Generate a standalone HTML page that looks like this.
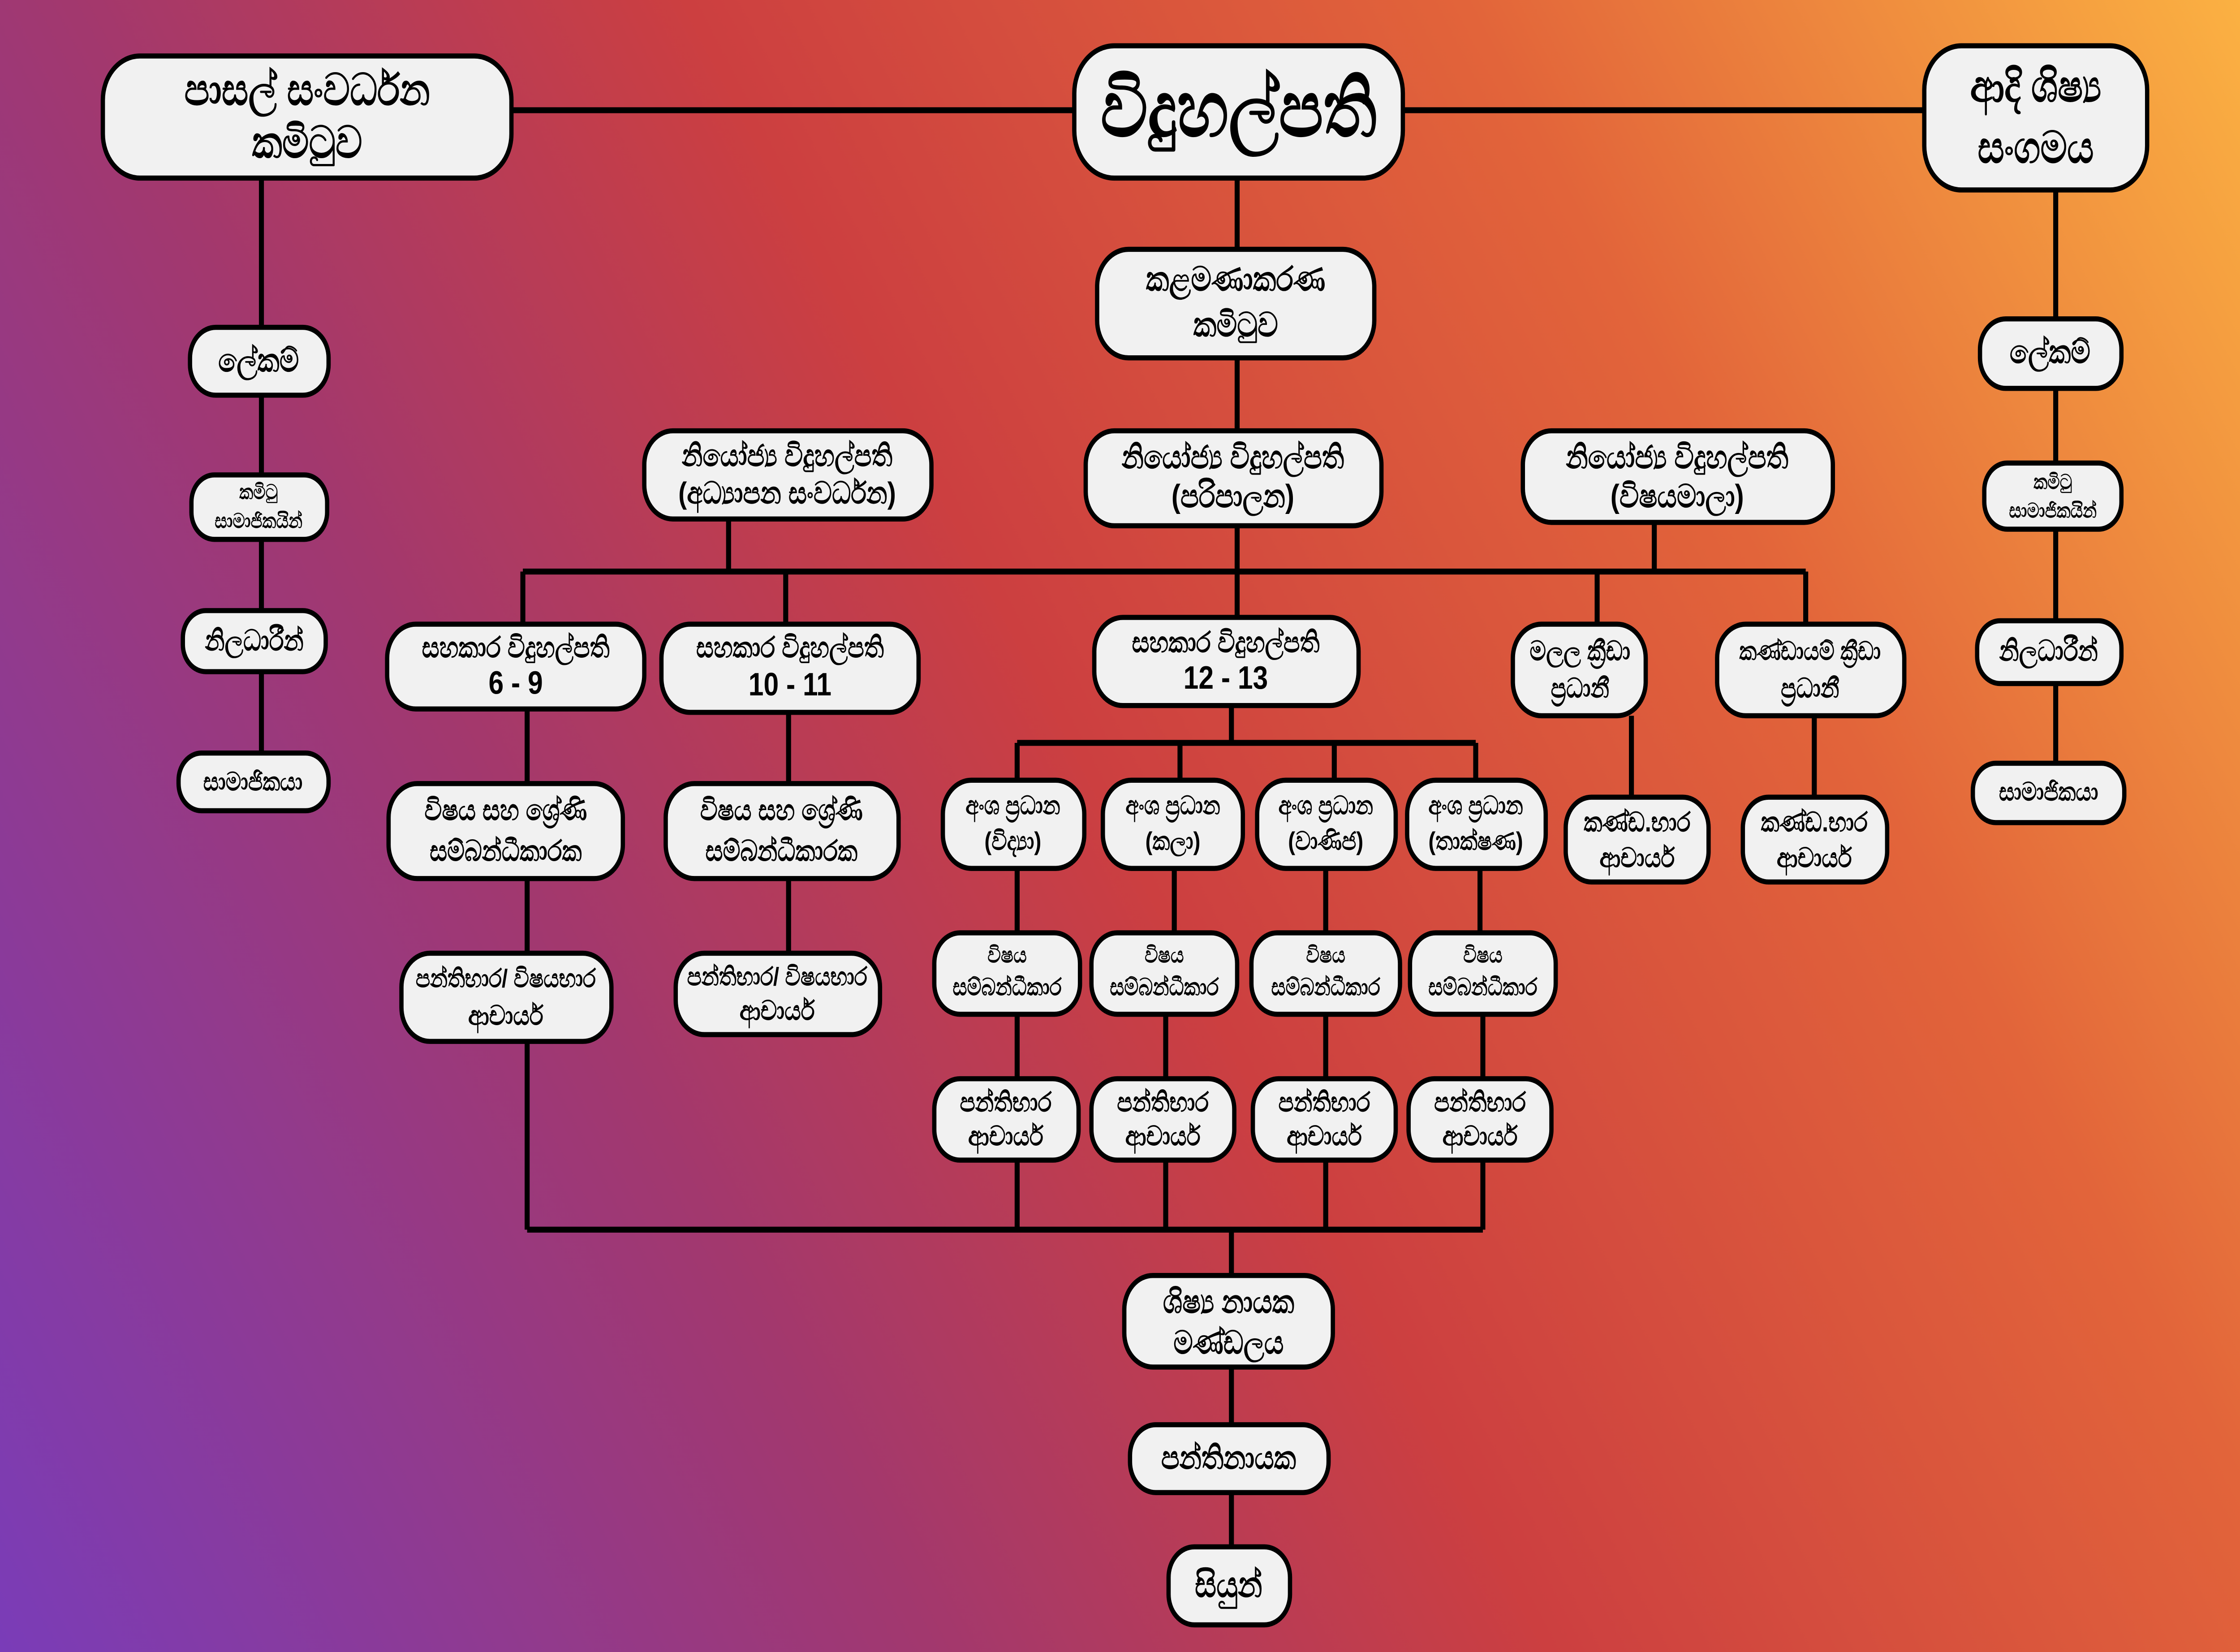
<!DOCTYPE html>
<html><head><meta charset="utf-8"><style>
html,body{margin:0;padding:0;width:100%;height:100%;overflow:hidden}
svg{display:block;position:absolute;left:0;top:0;width:100vw;height:100vh}
text{font-family:"Liberation Sans","Noto Sans CJK SC",sans-serif;font-weight:bold;fill:#000;text-anchor:middle;dominant-baseline:middle}
.b{fill:#f1f1f1;stroke:#000;stroke-width:3}
.l{stroke:#000;stroke-width:3.5;fill:none}
</style></head><body>
<svg viewBox="0 0 1568 974" preserveAspectRatio="none">
<defs>
<linearGradient id="g" gradientUnits="userSpaceOnUse" x1="0" y1="974" x2="1568" y2="0">
<stop offset="0" stop-color="#7a3cb8"/>
<stop offset="0.3" stop-color="#a2386e"/>
<stop offset="0.5" stop-color="#cc3f40"/>
<stop offset="0.75" stop-color="#e2643a"/>
<stop offset="1" stop-color="#fbb142"/>
</linearGradient>
</defs>
<rect width="1568" height="974" fill="url(#g)"/>
<g class="l">
<path d="M358 65H752M982 65H1347"/>
<path d="M183 105V444M1439 112V450"/>
<path d="M866 105V147M866 211V254"/>
<path d="M366 337H1264M510 306V337M866 310V364M1158 308V337M366 337V368M550 337V368M1118 337V368M1264 337V368"/>
<path d="M369 418V562M552 420V562M369 614V725M862 416V438M1142 422V470M1270 422V470"/>
<path d="M712 438H1033M712 438V460M826 438V460M934 438V460M1033 438V460"/>
<path d="M712 512V550M822 512V550M928 512V550M1036 512V550"/>
<path d="M712 598V636M816 598V636M928 598V636M1038 598V636"/>
<path d="M712 684V725M816 684V725M928 684V725M1038 684V725"/>
<path d="M369 725H1038M862 725V752M862 806V840M862 880V912"/>
</g>
<g>
<rect class="b" x="72" y="33" width="286" height="72" rx="26"/>
<text x="215" y="55" font-size="26">පාසල් සංවර්ධන</text><text x="215" y="86" font-size="26">කමිටුව</text>
<rect class="b" x="752" y="27" width="230" height="78" rx="28" stroke-width="4"/>
<text x="867" y="68" font-size="46">විදුහල්පති</text>
<rect class="b" x="1347" y="27" width="156" height="85" rx="26"/>
<text x="1425" y="53" font-size="26">ආදි ශිෂ්‍ය</text><text x="1425" y="89" font-size="26">සංගමය</text>
<rect class="b" x="768" y="147" width="194" height="64" rx="22"/>
<text x="865" y="166" font-size="20">කළමණාකරණ</text><text x="865" y="193" font-size="20">කමිටුව</text>

<rect class="b" x="133" y="193" width="97" height="40" rx="18"/><text x="181" y="214" font-size="19">ලේකම්</text>
<rect class="b" x="134" y="280" width="95" height="38" rx="16"/><text x="181" y="291" font-size="12">කමිටු</text><text x="181" y="308" font-size="12">සාමාජිකයින්</text>
<rect class="b" x="128" y="360" width="100" height="36" rx="16"/><text x="178" y="379" font-size="17">නිලධාරීන්</text>
<rect class="b" x="125" y="444" width="105" height="34" rx="16"/><text x="177" y="462" font-size="15">සාමාජිකයා</text>

<rect class="b" x="1386" y="188" width="99" height="41" rx="18"/><text x="1435" y="209" font-size="19">ලේකම්</text>
<rect class="b" x="1389" y="273" width="96" height="39" rx="16"/><text x="1437" y="285" font-size="12">කමිටු</text><text x="1437" y="302" font-size="12">සාමාජිකයින්</text>
<rect class="b" x="1384" y="366" width="101" height="37" rx="16"/><text x="1434" y="385" font-size="17">නිලධාරීන්</text>
<rect class="b" x="1381" y="450" width="106" height="35" rx="16"/><text x="1434" y="468" font-size="15">සාමාජිකයා</text>

<rect class="b" x="451" y="254" width="201" height="52" rx="20"/><text x="551" y="270" font-size="18">නියෝජ්‍ය විදුහල්පති</text><text x="551" y="292" font-size="18">(අධ්‍යාපන සංවර්ධන)</text>
<rect class="b" x="760" y="254" width="207" height="56" rx="20"/><text x="863" y="271" font-size="19">නියෝජ්‍ය විදුහල්පති</text><text x="863" y="294" font-size="19">(පරිපාලන)</text>
<rect class="b" x="1066" y="254" width="217" height="54" rx="20"/><text x="1174" y="271" font-size="19">නියෝජ්‍ය විදුහල්පති</text><text x="1174" y="294" font-size="19">(විෂයමාලා)</text>

<rect class="b" x="271" y="368" width="180" height="50" rx="20"/><text x="361" y="383" font-size="17">සහකාර විදුහල්පති</text><text x="361" y="404" font-size="19" font-weight="normal">6 - 9</text>
<rect class="b" x="463" y="368" width="180" height="52" rx="20"/><text x="553" y="383" font-size="17">සහකාර විදුහල්පති</text><text x="553" y="405" font-size="19" font-weight="normal">10 - 11</text>
<rect class="b" x="766" y="364" width="185" height="52" rx="20"/><text x="858" y="380" font-size="17">සහකාර විදුහල්පති</text><text x="858" y="401" font-size="19" font-weight="normal">12 - 13</text>
<rect class="b" x="1059" y="368" width="93" height="54" rx="20"/><text x="1106" y="385" font-size="16">මලල ක්‍රීඩා</text><text x="1106" y="407" font-size="16">ප්‍රධානී</text>
<rect class="b" x="1202" y="368" width="131" height="54" rx="20"/><text x="1267" y="385" font-size="15">කණ්ඩායම් ක්‍රීඩා</text><text x="1267" y="407" font-size="16">ප්‍රධානී</text>

<rect class="b" x="272" y="462" width="164" height="56" rx="20"/><text x="354" y="479" font-size="17">විෂය සහ ශ්‍රේණි</text><text x="354" y="503" font-size="17">සම්බන්ධීකාරක</text>
<rect class="b" x="466" y="462" width="163" height="56" rx="20"/><text x="547" y="479" font-size="17">විෂය සහ ශ්‍රේණි</text><text x="547" y="503" font-size="17">සම්බන්ධීකාරක</text>
<rect class="b" x="1096" y="470" width="100" height="50" rx="18"/><text x="1146" y="486" font-size="16">කණ්ඩ.භාර</text><text x="1146" y="507" font-size="16">ආචාර්ය</text>
<rect class="b" x="1220" y="470" width="101" height="50" rx="18"/><text x="1270" y="486" font-size="16">කණ්ඩ.භාර</text><text x="1270" y="507" font-size="16">ආචාර්ය</text>

<rect class="b" x="660" y="460" width="99" height="52" rx="20"/><text x="709" y="476" font-size="15">අංශ ප්‍රධාන</text><text x="709" y="497" font-size="15">(විද්‍යා)</text>
<rect class="b" x="772" y="460" width="98" height="52" rx="20"/><text x="821" y="476" font-size="15">අංශ ප්‍රධාන</text><text x="821" y="497" font-size="15">(කලා)</text>
<rect class="b" x="880" y="460" width="97" height="52" rx="20"/><text x="928" y="476" font-size="15">අංශ ප්‍රධාන</text><text x="928" y="497" font-size="15">(වාණිජ)</text>
<rect class="b" x="985" y="460" width="97" height="52" rx="20"/><text x="1033" y="476" font-size="15">අංශ ප්‍රධාන</text><text x="1033" y="497" font-size="15">(තාක්ෂණ)</text>

<rect class="b" x="654" y="550" width="102" height="48" rx="18"/><text x="705" y="564" font-size="13">විෂය</text><text x="705" y="583" font-size="14">සම්බන්ධීකාර</text>
<rect class="b" x="764" y="550" width="102" height="48" rx="18"/><text x="815" y="564" font-size="13">විෂය</text><text x="815" y="583" font-size="14">සම්බන්ධීකාර</text>
<rect class="b" x="876" y="550" width="104" height="48" rx="18"/><text x="928" y="564" font-size="13">විෂය</text><text x="928" y="583" font-size="14">සම්බන්ධීකාර</text>
<rect class="b" x="987" y="550" width="102" height="48" rx="18"/><text x="1038" y="564" font-size="13">විෂය</text><text x="1038" y="583" font-size="14">සම්බන්ධීකාර</text>

<rect class="b" x="654" y="636" width="101" height="48" rx="18"/><text x="704" y="651" font-size="16">පන්තිභාර</text><text x="704" y="671" font-size="16">ආචාර්ය</text>
<rect class="b" x="764" y="636" width="100" height="48" rx="18"/><text x="814" y="651" font-size="16">පන්තිභාර</text><text x="814" y="671" font-size="16">ආචාර්ය</text>
<rect class="b" x="877" y="636" width="100" height="48" rx="18"/><text x="927" y="651" font-size="16">පන්තිභාර</text><text x="927" y="671" font-size="16">ආචාර්ය</text>
<rect class="b" x="986" y="636" width="100" height="48" rx="18"/><text x="1036" y="651" font-size="16">පන්තිභාර</text><text x="1036" y="671" font-size="16">ආචාර්ය</text>

<rect class="b" x="281" y="562" width="147" height="52" rx="20"/><text x="354" y="578" font-size="15">පන්තිභාර/ විෂයභාර</text><text x="354" y="600" font-size="16">ආචාර්ය</text>
<rect class="b" x="473" y="562" width="143" height="48" rx="20"/><text x="544" y="577" font-size="15">පන්තිභාර/ විෂයභාර</text><text x="544" y="597" font-size="16">ආචාර්ය</text>

<rect class="b" x="787" y="752" width="146" height="54" rx="20"/><text x="860" y="769" font-size="19">ශිෂ්‍ය නායක</text><text x="860" y="793" font-size="19">මණ්ඩලය</text>
<rect class="b" x="791" y="840" width="139" height="40" rx="18"/><text x="860" y="861" font-size="19">පන්තිනායක</text>
<rect class="b" x="818" y="912" width="85" height="46" rx="18"/><text x="860" y="936" font-size="21">සියුන්</text>
</g>
</svg>
</body></html>
